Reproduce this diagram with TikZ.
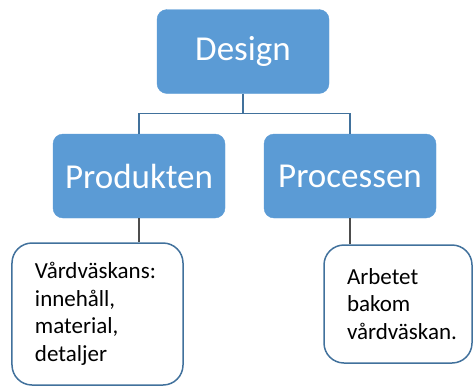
\documentclass[tikz,border=0pt]{standalone}
\usepackage{fontspec}
\setmainfont{Carlito}
\usepackage{tikz}
\usetikzlibrary{positioning}
\definecolor{boxblue}{HTML}{5B9BD5}
\definecolor{edgeblue}{HTML}{41719C}
\definecolor{wiregray}{HTML}{4D4D4D}
\tikzset{
  head/.style   = {fill=boxblue, draw=boxblue, rounded corners=10bp, text=white,
                   minimum width=172bp, minimum height=84bp, inner sep=0pt,
                   font=\fontsize{35bp}{42bp}\selectfont},
  note/.style   = {draw=edgeblue, line width=1.5bp, fill=white, rounded corners=20bp,
                   align=left, inner xsep=23bp, inner ysep=0pt,
                   font=\fontsize{23bp}{27.5bp}\selectfont},
  bus/.style    = {draw=edgeblue, line width=1.3bp},
  link/.style   = {draw=wiregray, line width=1.1bp},
}
\begin{document}
\begin{tikzpicture}[x=1bp,y=-1bp]
  \useasboundingbox (0,0) rectangle (473,387);
  % blue boxes
  \node[head] (design)    at (243,51.5) {Design};
  \node[head] (produkten) at (139,176)  {Produkten};
  \node[head] (processen) at (350,176)  {Processen};
  % notes
  \node[note, text width=125bp, minimum height=142bp] (innehall) at (97.5,314)
    {Vårdväskans:\\innehåll,\\material,\\detaljer};
  \node[note, text width=102bp, minimum height=118bp] (arbetet) at (398,304)
    {Arbetet\\bakom\\vårdväskan.};
  % connectors
  \draw[bus] (design.south) -- ++(0,20) coordinate (fork);
  \draw[bus] (produkten.north) |- (fork) -| (processen.north);
  \draw[link] (produkten.south) -- (produkten.south |- innehall.north);
  \draw[link] (processen.south) -- (processen.south |- arbetet.north);
\end{tikzpicture}
\end{document}
